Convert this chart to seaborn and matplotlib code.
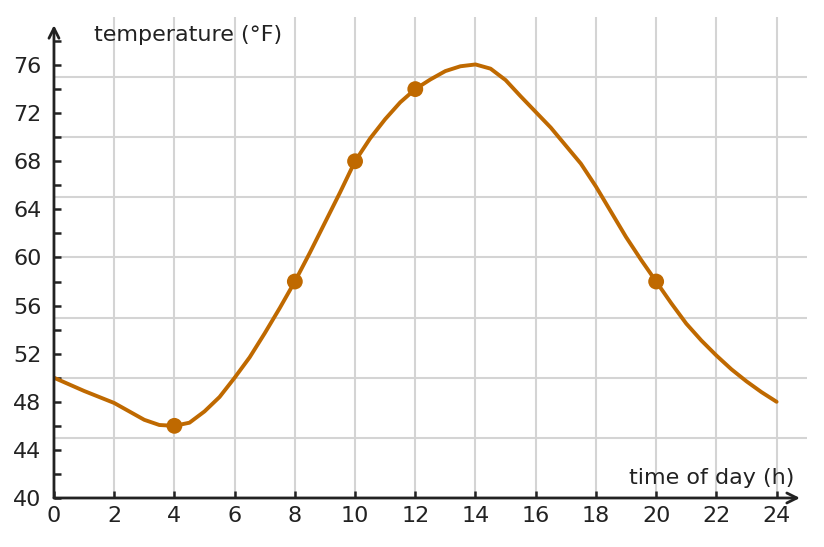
import numpy as np
import pandas as pd
import matplotlib
matplotlib.use("Agg")
import matplotlib.pyplot as plt
import seaborn as sns

# Temperature over the day, every half hour
hours = [0, 0.5, 1, 1.5, 2, 2.5, 3, 3.5, 4, 4.5, 5, 5.5, 6, 6.5, 7, 7.5,
         8, 8.5, 9, 9.5, 10, 10.5, 11, 11.5, 12, 12.5, 13, 13.5, 14, 14.5,
         15, 15.5, 16, 16.5, 17, 17.5, 18, 18.5, 19, 19.5, 20, 20.5, 21,
         21.5, 22, 22.5, 23, 23.5, 24]
temps = [50, 49.45, 48.9, 48.4, 47.9, 47.2, 46.5, 46.07, 46, 46.26, 47.2,
         48.4, 50, 51.7, 53.7, 55.8, 58, 60.4, 62.9, 65.4, 68, 69.9, 71.5,
         72.9, 74, 74.8, 75.5, 75.9, 76.05, 75.7, 74.75, 73.4, 72.1, 70.8,
         69.3, 67.8, 65.9, 63.8, 61.7, 59.8, 58, 56.2, 54.5, 53.1, 51.85,
         50.7, 49.7, 48.8, 48]

# Highlighted measurements
mark_hours = [4, 8, 10, 12, 20]
mark_temps = [46, 58, 68, 74, 58]

x_ticks = list(range(0, 25, 2))
y_ticks = list(range(40, 77, 4))
y_minor = list(range(40, 80, 2))
h_grid = [45, 50, 55, 60, 65, 70, 75]

line_color = "#bf6900"
ink = "#222222"
grid_color = "#d4d4d4"

sns.set_style("white")
plt.rcParams["font.family"] = ["DejaVu Sans"]

curve = pd.DataFrame({"hour": hours, "temp": temps})
points = pd.DataFrame({"hour": mark_hours, "temp": mark_temps})

fig = plt.figure(figsize=(8.24, 5.47), dpi=100)
ax = fig.add_axes([0.0655, 0.0896, 0.9135, 0.8794])

ax.set_xlim(0, 25)
ax.set_ylim(40, 80)

# grid
for g in x_ticks[1:]:
    ax.axvline(g, color=grid_color, lw=1.5, zorder=0)
for g in h_grid:
    ax.axhline(g, color=grid_color, lw=1.5, zorder=0)

sns.lineplot(data=curve, x="hour", y="temp", ax=ax, color=line_color,
             lw=2.8, solid_joinstyle="round", solid_capstyle="round", zorder=3)
sns.scatterplot(data=points, x="hour", y="temp", ax=ax, color=line_color,
                s=130, edgecolor="none", zorder=4)

for s in ax.spines.values():
    s.set_visible(False)

# axes with arrow heads
ax.annotate("", xy=(0.991, 0), xytext=(0, 0), xycoords="axes fraction",
            arrowprops=dict(arrowstyle="->", color=ink, lw=2,
                            mutation_scale=18, shrinkA=0, shrinkB=0), zorder=5)
ax.annotate("", xy=(0, 0.983), xytext=(0, 0), xycoords="axes fraction",
            arrowprops=dict(arrowstyle="->", color=ink, lw=2,
                            mutation_scale=18, shrinkA=0, shrinkB=0), zorder=5)

ax.set_xticks(x_ticks)
ax.set_yticks(y_ticks)
ax.set_yticks(y_minor, minor=True)
ax.tick_params(axis="both", which="both", direction="in", length=5, width=1.8,
               color=ink, labelcolor=ink, labelsize=16, left=True, bottom=True)
ax.tick_params(axis="y", which="major", pad=9)
ax.tick_params(axis="x", which="major", pad=6)
ax.set_xlabel("")
ax.set_ylabel("")

ax.text(0.053, 0.963, "temperature (°F)", transform=ax.transAxes,
        ha="left", va="center", fontsize=16, color=ink)
ax.text(0.984, 0.042, "time of day (h)", transform=ax.transAxes,
        ha="right", va="center", fontsize=16, color=ink)

fig.savefig("out.png", dpi=100)
